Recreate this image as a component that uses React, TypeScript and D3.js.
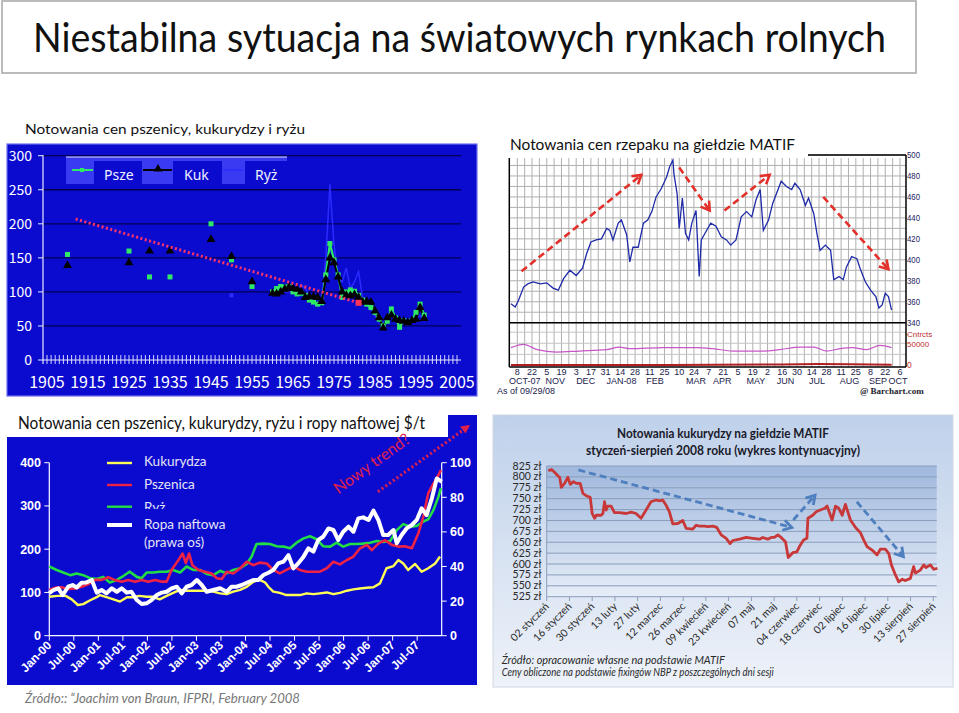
import React from "react";
import * as d3 from "d3";

// ---------- Chart 1: wheat / maize / rice 1905-2005 ----------
const c1Years = [1910, 1925, 1930, 1935, 1945, 1950, 1955,
  1960, 1961, 1962, 1963, 1964, 1965, 1966, 1967, 1968, 1969, 1970, 1971, 1972, 1973, 1974, 1975, 1976, 1977, 1978, 1979,
  1980, 1981, 1982, 1983, 1984, 1985, 1986, 1987, 1988, 1989, 1990, 1991, 1992, 1993, 1994, 1995, 1996, 1997];
const c1Wheat = [155, 160, 122, 122, 200, 147, 108,
  100, 105, 108, 107, 108, 100, 97, 98, 95, 88, 85, 82, 84, 125, 171, 147, 125, 92, 100, 103,
  101, 95, 88, 82, 77, 70, 60, 50, 57, 75, 62, 48, 58, 55, 58, 70, 82, 66];
const c1Maize = [139, 143, 160, 160, 177, 152, 115,
  98, 97, 100, 104, 107, 105, 104, 100, 92, 93, 93, 92, 86, 118, 150, 143, 122, 100, 95, 94,
  96, 92, 85, 86, 85, 72, 62, 47, 62, 66, 60, 58, 57, 55, 58, 60, 77, 61];
const c1Rice: (number | null)[] = [null, null, null, null, null, 95, null,
  95, 98, 100, 100, 100, 100, 105, 110, 105, 95, 85, 80, 90, 150, 258, 170, 120, 115, 135, 105,
  115, 130, 90, 85, 75, 65, 55, 55, 65, 65, 60, 62, 60, 55, 60, 62, 65, 60];
const c1Trend: [number, number][] = [[1912, 207], [1981, 84]];
const c1YTicks = [0, 50, 100, 150, 200, 250, 300];
const c1XLabels = [1905, 1915, 1925, 1935, 1945, 1955, 1965, 1975, 1985, 1995, 2005];

// ---------- Chart 2: rapeseed MATIF ----------
const c2Price: [string, number][] = [
  ["2007-10-02", 358], ["2007-10-06", 355], ["2007-10-09", 361], ["2007-10-14", 374], ["2007-10-18", 377], ["2007-10-23", 379],
  ["2007-10-30", 377], ["2007-11-05", 378], ["2007-11-11", 373], ["2007-11-16", 371], ["2007-11-21", 382], ["2007-11-27", 390],
  ["2007-12-03", 385], ["2007-12-09", 392], ["2007-12-13", 406], ["2007-12-17", 417], ["2007-12-22", 419], ["2007-12-27", 420],
  ["2008-01-01", 430], ["2008-01-04", 428], ["2008-01-07", 419], ["2008-01-12", 435], ["2008-01-15", 438], ["2008-01-20", 424],
  ["2008-01-23", 398], ["2008-01-26", 412], ["2008-01-31", 412], ["2008-02-05", 435], ["2008-02-09", 438], ["2008-02-13", 446],
  ["2008-02-17", 460], ["2008-02-22", 468], ["2008-02-27", 479], ["2008-03-01", 489], ["2008-03-04", 495], ["2008-03-05", 482],
  ["2008-03-08", 463], ["2008-03-10", 430], ["2008-03-13", 459], ["2008-03-16", 425], ["2008-03-19", 419], ["2008-03-22", 435],
  ["2008-03-26", 447], ["2008-03-29", 384], ["2008-03-31", 419], ["2008-04-05", 428], ["2008-04-09", 435], ["2008-04-14", 432],
  ["2008-04-19", 422], ["2008-04-24", 419], ["2008-04-28", 414], ["2008-05-03", 419], ["2008-05-08", 441], ["2008-05-13", 446],
  ["2008-05-18", 441], ["2008-05-22", 457], ["2008-05-26", 467], ["2008-05-29", 428], ["2008-06-03", 438], ["2008-06-07", 454],
  ["2008-06-12", 467], ["2008-06-15", 475], ["2008-06-20", 470], ["2008-06-25", 467], ["2008-06-28", 473], ["2008-07-03", 467],
  ["2008-07-08", 452], ["2008-07-11", 459], ["2008-07-16", 444], ["2008-07-19", 425], ["2008-07-22", 409], ["2008-07-27", 414],
  ["2008-08-01", 409], ["2008-08-04", 381], ["2008-08-09", 384], ["2008-08-13", 381], ["2008-08-16", 393], ["2008-08-21", 403],
  ["2008-08-26", 401], ["2008-08-29", 392], ["2008-09-03", 379], ["2008-09-08", 371], ["2008-09-13", 365], ["2008-09-16", 354],
  ["2008-09-19", 357], ["2008-09-22", 368], ["2008-09-25", 365], ["2008-09-28", 352]];
const c2Volume: [string, number][] = [
  ["2007-10-02", 40200], ["2007-10-14", 47700], ["2007-10-27", 35600], ["2007-11-14", 30300], ["2007-12-06", 32600],
  ["2008-01-01", 35600], ["2008-01-13", 41600], ["2008-01-23", 37900], ["2008-02-24", 40200], ["2008-03-26", 40200],
  ["2008-04-11", 37900], ["2008-04-30", 32600], ["2008-05-29", 32600], ["2008-06-13", 35600], ["2008-07-03", 41600],
  ["2008-07-16", 41600], ["2008-07-28", 32600], ["2008-08-10", 37900], ["2008-08-22", 40200], ["2008-09-04", 35600],
  ["2008-09-17", 45500], ["2008-09-28", 40200]];
const c2OpenInt: [string, number][] = [
  ["2007-10-02", 1200], ["2007-12-15", 1000], ["2008-03-01", 1300], ["2008-06-15", 2200], ["2008-07-20", 3200],
  ["2008-08-20", 2600], ["2008-09-28", 1800]];
const c2PriceTicks = [340, 360, 380, 400, 420, 440, 460, 480, 500];
const c2MonthLabels: [string, string][] = [
  ["OCT-07", "2007-10-15"], ["NOV", "2007-11-13"], ["DEC", "2007-12-12"], ["JAN-08", "2008-01-15"], ["FEB", "2008-02-16"],
  ["MAR", "2008-03-26"], ["APR", "2008-04-20"], ["MAY", "2008-05-22"], ["JUN", "2008-06-19"], ["JUL", "2008-07-19"],
  ["AUG", "2008-08-19"], ["SEP", "2008-09-15"], ["OCT", "2008-10-04"]];
const c2Arrows: [string, number, string, number][] = [
  ["2007-10-12", 389, "2008-02-03", 481], ["2008-03-10", 488, "2008-04-08", 447],
  ["2008-04-22", 447, "2008-06-04", 481], ["2008-07-25", 460, "2008-09-25", 391]];

// ---------- Chart 3: wheat, maize, rice, oil 2000-2007 ----------
const c3Maize: [number, number][] = [[0, 90], [2, 92], [4, 92], [5.5, 84], [7, 71], [8.3, 73], [10, 82], [11.6, 89], [12.4, 94], [14, 89],
  [15.7, 84], [17.3, 79], [19, 89], [20.5, 89], [22, 92], [23.8, 90], [25.4, 90], [27, 84], [28.7, 92], [30.3, 99], [32, 106],
  [33.6, 104], [35.2, 104], [36.9, 104], [38.5, 104], [40.1, 102], [41.8, 98], [43.4, 96], [45, 102], [46.7, 106], [48.3, 113],
  [50, 125], [51.5, 129], [52.8, 123], [53.6, 113], [54.8, 102], [56.4, 99], [58, 94], [59.7, 94], [61.3, 94], [63, 98], [64.6, 96],
  [66.2, 98], [67.9, 100], [69.5, 96], [71.1, 99], [72.8, 104], [74.4, 107], [76, 109], [77.7, 111], [79.3, 112], [80.9, 121],
  [82.5, 156], [84.2, 161], [85.4, 175], [86.6, 167], [87.8, 152], [89.5, 166], [91.1, 148], [92.7, 156], [94.4, 167], [95.6, 183]];
const c3Wheat: [number, number][] = [[0, 106], [1.4, 111], [3, 112], [4.6, 108], [6.3, 109], [7.9, 113], [9.5, 119], [11.2, 129],
  [12.8, 129], [14.4, 135], [16, 129], [17.7, 125], [19.3, 129], [21, 125], [22.6, 129], [24.2, 125], [25.9, 129], [27.5, 125],
  [28.7, 125], [29.9, 152], [31.6, 175], [32.6, 190], [33.4, 168], [34.2, 190], [35, 163], [36.5, 152], [38.1, 148], [39.7, 144],
  [41, 133], [42.2, 131], [43.4, 148], [45, 144], [46.7, 156], [48.3, 171], [49.9, 163], [51.5, 169], [53.2, 167], [54.8, 152],
  [56.4, 144], [58, 152], [59.7, 160], [61.3, 152], [63, 148], [64.6, 148], [66.2, 148], [67.9, 156], [69.5, 171], [71.1, 165],
  [72.8, 175], [74.4, 183], [76, 202], [77.7, 210], [78.9, 198], [80.5, 213], [82.1, 221], [83.8, 210], [85.4, 206], [87, 207],
  [88.7, 202], [90.3, 237], [91.5, 275], [92.7, 329], [94, 352], [95.2, 371], [95.8, 383]];
const c3Rice: [number, number][] = [[0, 160], [1.8, 152], [3.4, 146], [5.1, 140], [6.7, 144], [8.3, 140], [10, 133], [11.6, 131],
  [13.2, 136], [14.8, 123], [16.5, 129], [18.1, 138], [19.7, 148], [21.4, 136], [22.6, 133], [23.8, 146], [25.4, 146], [27, 148],
  [28.7, 148], [30.3, 152], [32, 146], [33.6, 160], [35.2, 152], [36.9, 152], [38.5, 143], [40.1, 140], [41.8, 150], [43.4, 144],
  [45, 152], [46.7, 156], [48.3, 166], [49.5, 183], [50.7, 212], [52.4, 213], [54, 212], [55.6, 207], [57.3, 206], [58.9, 202],
  [60.5, 215], [62.2, 225], [63.8, 230], [65.4, 223], [67, 207], [68.7, 206], [70.3, 215], [71.9, 206], [73.6, 212], [75.2, 212],
  [76.8, 213], [78.5, 215], [80.1, 219], [81.7, 217], [83.4, 219], [85, 244], [86.6, 258], [88.3, 252], [89.9, 254], [91.5, 264],
  [92.7, 269], [94, 291], [95.2, 321], [95.8, 341]];
const c3Oil: [number, number][] = [[0, 24.5], [1, 26.4], [2.2, 27.4], [3.3, 23.5], [4.6, 28.3], [5.7, 29.3], [6.7, 27.9], [7.9, 30.6],
  [9.1, 30.8], [10.4, 32.2], [11.6, 24.9], [12.8, 26.4], [14, 24.5], [15.3, 27.4], [16.5, 25.4], [17.7, 27.4], [18.9, 24.9],
  [20.1, 25.4], [21.4, 20.6], [22.6, 18.3], [23.8, 18.7], [25, 20.6], [26.3, 23.5], [27.5, 24.9], [28.7, 25.4], [29.9, 27.4],
  [31.2, 28.3], [32.4, 24.5], [33.6, 28.3], [34.8, 29.3], [36.1, 32.2], [37.3, 29.3], [38.5, 25.4], [40.1, 26.4], [41.8, 27.4],
  [43.4, 25.4], [44.6, 28.3], [45.8, 28.3], [47.1, 29.3], [48.3, 30.6], [49.9, 32.2], [51.1, 32.2], [52.4, 35.1], [53.6, 36.4],
  [54.8, 38], [56, 41.8], [57.3, 42.8], [58.5, 46.6], [59.7, 38.9], [60.9, 41.8], [62.2, 45.7], [63.4, 50.5], [64.6, 48.6],
  [65.8, 55.3], [67, 57.2], [68.3, 62], [69.5, 61.1], [70.7, 55.3], [71.9, 60.1], [73.2, 63], [74.4, 60.1], [75.6, 67.8],
  [76.8, 68.4], [78.1, 66.9], [79.3, 72.3], [80.5, 66.9], [81.7, 58.2], [82.9, 58.2], [84.2, 61.1], [85, 53.4], [86.2, 58.2],
  [87.4, 62], [88.7, 64], [89.9, 66.9], [91.1, 73.6], [92.3, 69.7], [93.6, 79.4], [94.8, 90.9], [96, 89]];
const c3LeftTicks = [0, 100, 200, 300, 400];
const c3RightTicks = [0, 20, 40, 60, 80, 100];
const c3XLabels = ["Jan-00", "Jul-00", "Jan-01", "Jul-01", "Jan-02", "Jul-02", "Jan-03", "Jul-03", "Jan-04", "Jul-04",
  "Jan-05", "Jul-05", "Jan-06", "Jul-06", "Jan-07", "Jul-07"];

// ---------- Chart 4: maize MATIF 2008 ----------
const c4Price: [number, number][] = [[1, 814], [3, 817], [5, 810], [7, 802], [8, 799], [9, 776], [11, 785], [13, 799], [14.5, 783],
  [16.5, 789], [18.5, 785], [20.6, 785], [22.3, 762], [24.7, 756], [26.8, 753], [28, 716], [29.5, 705], [30.5, 712], [33.5, 712],
  [34.6, 716], [35.6, 743], [36.6, 724], [37.6, 733], [39.7, 733], [41.7, 718], [44.8, 718], [48.9, 716], [52, 719], [55, 716],
  [58.1, 705], [61.2, 724], [64.2, 743], [67.3, 747], [69.4, 745], [71.4, 747], [73.5, 735], [75.5, 720], [77.6, 692], [80.7, 693],
  [83.8, 700], [85.8, 682], [89.9, 680], [92, 689], [94, 687], [97.1, 687], [99.2, 686], [102.3, 687], [104.7, 684], [107.4, 667],
  [110.5, 659], [112.9, 647], [114.6, 654], [118.7, 657], [122.8, 661], [126.9, 659], [131, 657], [133, 661], [136.1, 657],
  [138.2, 661], [140.2, 661], [142.3, 667], [144.3, 661], [147, 651], [148.7, 615], [151.5, 626], [154, 628], [155.6, 640],
  [158.1, 655], [160.2, 659], [160.8, 705], [163.8, 712], [165.9, 720], [168.4, 724], [171.2, 728], [172.6, 733], [175.7, 701],
  [177.8, 733], [179.8, 728], [181.9, 712], [183.9, 737], [187, 701], [190.1, 684], [193.1, 672], [195.2, 655], [197.2, 640],
  [200.3, 632], [203.4, 621], [205.4, 634], [208.5, 634], [210.6, 624], [212.2, 598], [214.7, 575], [216.7, 559], [218.8, 565],
  [220.8, 562], [223.9, 567], [225.9, 594], [227, 579], [230, 586], [232.1, 598], [233.5, 592], [236.2, 598], [238.2, 588], [240.5, 590]];
const c4YTicks = [525, 550, 575, 600, 625, 650, 675, 700, 725, 750, 775, 800, 825];
const c4XLabels = ["02 styczeń", "16 styczeń", "30 styczeń", "13 luty", "27 luty", "12 marzec", "26 marzec", "09 kwiecień",
  "23 kwiecień", "07 maj", "21 maj", "04 czerwiec", "18 czerwiec", "02 lipiec", "16 lipiec", "30 lipiec", "13 sierpień", "27 sierpień"];
const c4Arrows: [number, number, number, number][] = [[19.5, 816, 150.9, 684], [151.8, 701, 165.2, 758], [190.9, 743, 219.6, 617]];

const parse = d3.timeParse("%Y-%m-%d");
const CAL = "Lato, 'Open Sans', sans-serif";
const GOTH = "'Noto Sans CJK JP', 'Noto Sans', sans-serif";

function head(x1: number, y1: number, x2: number, y2: number, L: number, phi: number) {
  const t = Math.atan2(y2 - y1, x2 - x1);
  return `M${x2 - L * Math.cos(t - phi)},${y2 - L * Math.sin(t - phi)}L${x2},${y2}L${x2 - L * Math.cos(t + phi)},${y2 - L * Math.sin(t + phi)}`;
}

export default function App() {
  // ----- chart 1 scales
  const x1 = d3.scaleLinear().domain([1905, 2005]).range([47, 457]);
  const y1 = d3.scaleLinear().domain([0, 300]).range([360, 155.7]);
  const idx1 = c1Years.map((_, i) => i);
  const lineIdx = idx1.filter((i) => c1Years[i] >= 1960);
  const mk1 = (vals: (number | null)[]) =>
    d3.line<number>().x((i) => x1(c1Years[i])).y((i) => y1(vals[i] as number))(lineIdx) || "";
  const tri = d3.symbol().type(d3.symbolTriangle).size(34)() || "";

  // ----- chart 2 scales
  const x2 = d3.scaleTime().domain([new Date(2007, 9, 8), new Date(2008, 9, 6)]).range([517.3, 900]);
  const y2 = d3.scaleLinear().domain([340, 500]).range([322.7, 155]);
  const v2 = d3.scaleLinear().domain([0, 50000]).range([365.5, 343.3]);
  const priceLine = d3.line<[string, number]>().x((d) => x2(parse(d[0])!)).y((d) => y2(d[1]))(c2Price) || "";
  const volLine = d3.line<[string, number]>().x((d) => x2(parse(d[0])!)).y((d) => v2(d[1])).curve(d3.curveMonotoneX)(c2Volume) || "";
  const oiLine = d3.line<[string, number]>().x((d) => x2(parse(d[0])!)).y((d) => v2(d[1]))(c2OpenInt) || "";
  const mondays = d3.timeMonday.range(new Date(2007, 9, 2), new Date(2008, 9, 12));
  const biweekly = d3.range(27).map((i) => d3.timeDay.offset(new Date(2007, 9, 8), 14 * i));
  const priceGrid = d3.range(340, 501, 10);

  // ----- chart 3 scales
  const x3 = d3.scaleLinear().domain([0, 96]).range([49.3, 441.7]);
  const yL = d3.scaleLinear().domain([0, 400]).range([635.7, 462.7]);
  const yR = d3.scaleLinear().domain([0, 100]).range([635.7, 462.7]);
  const ln3 = (data: [number, number][], ys: d3.ScaleLinear<number, number>) =>
    d3.line<[number, number]>().x((d) => x3(d[0])).y((d) => ys(d[1])).curve(d3.curveLinear)(data) || "";

  // ----- chart 4 scales
  const x4 = d3.scaleLinear().domain([0, 238]).range([546.7, 933.3]);
  const y4 = d3.scaleLinear().domain([525, 825]).range([596.7, 466]);
  const ln4 = d3.line<[number, number]>().x((d) => x4(d[0])).y((d) => y4(d[1]))(c4Price) || "";

  const blue1 = "#0b0bcf";

  return (
    <svg width={959} height={713} style={{ position: "absolute", left: 0, top: 0, background: "#fff" }} fontFamily={CAL}>
      <defs>
        <linearGradient id="g4out" x1="0" y1="0" x2="0" y2="1">
          <stop offset="0" stopColor="#bfd1ea" />
          <stop offset="1" stopColor="#eef2f9" />
        </linearGradient>
        <linearGradient id="g4plot" x1="0" y1="0" x2="0" y2="1">
          <stop offset="0" stopColor="#9fb8dd" />
          <stop offset="1" stopColor="#e6edf7" />
        </linearGradient>
        <clipPath id="ryzClip"><rect x={140} y={495} width={80} height={14} /></clipPath>
        <clipPath id="c4clip"><rect x={547} y={460} width={392} height={140} /></clipPath>
      </defs>

      {/* ===== Title box ===== */}
      <rect x={2} y={1} width={914} height={72} fill="#fff" stroke="#a6a6a6" strokeWidth={1.5} />
      <text x={33} y={52} fontSize={40} fill="#111" textLength={853} lengthAdjust="spacingAndGlyphs">
        Niestabilna sytuacja na światowych rynkach rolnych
      </text>

      {/* ===== Chart 1 ===== */}
      <text x={25} y={134} fontSize={14} fill="#111" textLength={280} lengthAdjust="spacingAndGlyphs">
        Notowania cen pszenicy, kukurydzy i ryżu
      </text>
      <rect x={7} y={144} width={470} height={252} fill={blue1} stroke="#6f6ff0" strokeWidth={1.2} />
      {c1YTicks.filter((t) => t > 0).map((t) => (
        <line key={t} x1={43} x2={461} y1={y1(t)} y2={y1(t)} stroke="#000050" strokeWidth={1.3} />
      ))}
      {c1YTicks.map((t) => (
        <g key={"yt" + t}>
          <line x1={38} x2={43} y1={y1(t)} y2={y1(t)} stroke="#e8e8ff" strokeWidth={1} />
          <text x={32} y={y1(t) + 5} textAnchor="end" fontSize={14} fill="#fff" fontFamily={GOTH}>{t}</text>
        </g>
      ))}
      <line x1={43} x2={43} y1={155} y2={364} stroke="#e8e8ff" strokeWidth={1.2} />
      <line x1={43} x2={461} y1={360} y2={360} stroke="#e8e8ff" strokeWidth={1.2} />
      {d3.range(1905, 2006).map((yr) => (
        <line key={"xt" + yr} x1={x1(yr)} x2={x1(yr)} y1={355} y2={364} stroke="#e8e8ff" strokeWidth={0.9} />
      ))}
      {c1XLabels.map((yr) => (
        <text key={"xl" + yr} x={x1(yr)} y={388} textAnchor="middle" fontSize={16} fill="#fff" fontFamily={GOTH}>{yr}</text>
      ))}
      {/* legend */}
      <rect x={66} y={157} width={221} height={27} fill="#3a3af2" />
      <line x1={66} x2={287} y1={157} y2={157} stroke="#d8d8ff" strokeWidth={1} />
      <rect x={94} y={161} width={48} height={23} fill={blue1} />
      <rect x={173} y={161} width={49} height={23} fill={blue1} />
      <rect x={245} y={161} width={42} height={23} fill={blue1} />
      <line x1={72} x2={93} y1={170} y2={170} stroke="#2ee866" strokeWidth={2} />
      <rect x={80} y={168} width={4} height={4} fill="#2ee866" />
      <line x1={143} x2={172} y1={170} y2={170} stroke="#000" strokeWidth={2} />
      <path d={tri} transform="translate(158,169)" fill="#000" />
      <line x1={223} x2={243} y1={170} y2={170} stroke="#2b2bff" strokeWidth={1.5} />
      <text x={104} y={180} fontSize={14} fill="#f0f0ff" fontFamily="'Noto Sans', sans-serif">Psze</text>
      <text x={184} y={180} fontSize={14} fill="#f0f0ff" fontFamily="'Noto Sans', sans-serif">Kuk</text>
      <text x={255} y={180} fontSize={14} fill="#f0f0ff" fontFamily="'Noto Sans', sans-serif">Ryż</text>
      {/* series */}
      <path d={mk1(c1Rice)} fill="none" stroke="#2b2bff" strokeWidth={1.5} />
      {idx1.filter((i) => c1Rice[i] != null && c1Years[i] < 1960).map((i) => (
        <rect key={"rp" + i} x={x1(c1Years[i]) - 2} y={y1(c1Rice[i] as number) - 2} width={4} height={4} fill="#2b2bff" />
      ))}
      <path d={mk1(c1Wheat)} fill="none" stroke="#2ee866" strokeWidth={2.2} />
      <path d={mk1(c1Maize)} fill="none" stroke="#000" strokeWidth={2} />
      {idx1.map((i) => (
        <rect key={"wp" + i} x={x1(c1Years[i]) - 2.5} y={y1(c1Wheat[i]) - 2.5} width={5} height={5} fill="#2ee866" />
      ))}
      {idx1.map((i) => (
        <path key={"mp" + i} d={tri} transform={`translate(${x1(c1Years[i])},${y1(c1Maize[i])})`} fill="#000" />
      ))}
      <path d={d3.line().x((d) => x1(d[0])).y((d) => y1(d[1]))(c1Trend) || ""} stroke="#ff3366" strokeWidth={3} strokeDasharray="2 2.5" fill="none" />
      <rect x={x1(1981) - 3} y={y1(84) - 3} width={6} height={6} fill="#ff3355" />

      {/* ===== Chart 2 ===== */}
      {mondays.map((d, i) => (
        <line key={"vg" + i} x1={x2(d)} x2={x2(d)} y1={158} y2={367} stroke="#b0b0b0" strokeWidth={1} />
      ))}
      {priceGrid.map((p) => (
        <line key={"hg" + p} x1={509.3} x2={906} y1={y2(p)} y2={y2(p)} stroke="#b0b0b0" strokeWidth={1} />
      ))}
      {[25000, 50000, 75000].map((v) => (
        <line key={"vv" + v} x1={509.3} x2={906} y1={v2(v)} y2={v2(v)} stroke="#c4c4c4" strokeWidth={1} />
      ))}
      <rect x={500} y={132} width={308} height={26} fill="#fff" />
      <text x={510} y={150} fontSize={15} fill="#111" textLength={285} lengthAdjust="spacingAndGlyphs">
        Notowania cen rzepaku na giełdzie MATIF
      </text>
      <line x1={808} x2={906} y1={155} y2={155} stroke="#000" strokeWidth={1.5} />
      <line x1={509.3} x2={509.3} y1={158} y2={367} stroke="#000" strokeWidth={1.5} />
      <line x1={906} x2={906} y1={155} y2={367} stroke="#000" strokeWidth={1.5} />
      <line x1={509.3} x2={906} y1={322.7} y2={322.7} stroke="#000" strokeWidth={1.5} />
      <line x1={509.3} x2={906} y1={367} y2={367} stroke="#000" strokeWidth={1.5} />
      <path d={priceLine} fill="none" stroke="#1e2aa8" strokeWidth={1.3} />
      <path d={volLine} fill="none" stroke="#c757c7" strokeWidth={1.2} />
      <path d={oiLine} fill="none" stroke="#b02020" strokeWidth={2} />
      {c2PriceTicks.map((p) => (
        <text key={"pt" + p} x={907} y={y2(p) + 3} fontSize={8.5} fill="#1c1c5c" fontFamily="'Liberation Sans', Arial, sans-serif" textLength={13} lengthAdjust="spacingAndGlyphs">{p}</text>
      ))}
      <text x={907} y={336.5} fontSize={8} fill="#c03030" fontFamily="'Liberation Sans', Arial, sans-serif">Cntrcts</text>
      <text x={907} y={346.5} fontSize={8} fill="#c03030" fontFamily="'Liberation Sans', Arial, sans-serif">50000</text>
      <text x={907} y={368} fontSize={8.5} fill="#c03030" fontFamily="'Liberation Sans', Arial, sans-serif">0</text>
      {biweekly.map((d, i) => (
        <text key={"dl" + i} x={x2(d)} y={375} textAnchor="middle" fontSize={9} fill="#1c1c4c" fontFamily="'Liberation Sans', Arial, sans-serif">
          {d3.timeFormat("%-d")(d)}
        </text>
      ))}
      {c2MonthLabels.map(([lab, ds]) => (
        <text key={"ml" + lab} x={x2(parse(ds)!)} y={384} textAnchor="middle" fontSize={9} fill="#1c1c4c" fontFamily="'Liberation Sans', Arial, sans-serif">
          {lab}
        </text>
      ))}
      <text x={497} y={394} fontSize={9} fill="#1c1c4c" fontFamily="'Liberation Sans', Arial, sans-serif">As of 09/29/08</text>
      <text x={860} y={394} fontSize={9} fontWeight="bold" fill="#1c1c2c" fontFamily="'Liberation Serif', serif">@ Barchart.com</text>
      {c2Arrows.map(([d1, p1, d2, p2], i) => {
        const ax1 = x2(parse(d1)!), ay1 = y2(p1), ax2 = x2(parse(d2)!), ay2 = y2(p2);
        return (
          <g key={"ar" + i}>
            <line x1={ax1} y1={ay1} x2={ax2} y2={ay2} stroke="#e3302a" strokeWidth={2.6} strokeDasharray="7 4" />
            <path d={head(ax1, ay1, ax2, ay2, 10, 0.55)} fill="none" stroke="#e3302a" strokeWidth={2.6} />
          </g>
        );
      })}

      {/* ===== Chart 3 ===== */}
      <rect x={7} y={415} width={470} height={270} fill={blue1} />
      <rect x={7} y={412} width={441} height={25} fill="#fff" />
      <text x={18} y={429} fontSize={16.5} fill="#111" textLength={407} lengthAdjust="spacingAndGlyphs">
        Notowania cen pszenicy, kukurydzy, ryżu i ropy naftowej $/t
      </text>
      <line x1={49.3} x2={49.3} y1={462.7} y2={635.7} stroke="#fff" strokeWidth={1.2} />
      <line x1={441.7} x2={441.7} y1={462.7} y2={635.7} stroke="#fff" strokeWidth={1.2} />
      <line x1={49.3} x2={441.7} y1={635.7} y2={635.7} stroke="#fff" strokeWidth={1.2} />
      {c3LeftTicks.map((t) => (
        <g key={"lt" + t}>
          <line x1={44.3} x2={49.3} y1={yL(t)} y2={yL(t)} stroke="#fff" />
          <text x={41} y={yL(t) + 4.5} textAnchor="end" fontSize={12.5} fontWeight="bold" fill="#fff" fontFamily="'Liberation Sans', Arial, sans-serif">{t}</text>
        </g>
      ))}
      {c3RightTicks.map((t) => (
        <g key={"rt" + t}>
          <line x1={441.7} x2={446.7} y1={yR(t)} y2={yR(t)} stroke="#fff" />
          <text x={450} y={yR(t) + 4.5} fontSize={12.5} fontWeight="bold" fill="#fff" fontFamily="'Liberation Sans', Arial, sans-serif">{t}</text>
        </g>
      ))}
      {c3XLabels.map((lab, i) => (
        <g key={"x3" + i}>
          <line x1={x3(i * 6)} x2={x3(i * 6)} y1={635.7} y2={640.7} stroke="#fff" />
          <text transform={`translate(${x3(i * 6) + 3},${646}) rotate(-45)`} textAnchor="end" fontSize={12} fontWeight="bold" fill="#fff" fontFamily="'Liberation Sans', Arial, sans-serif">{lab}</text>
        </g>
      ))}
      <path d={ln3(c3Maize, yL)} fill="none" stroke="#ffff55" strokeWidth={2.4} strokeLinejoin="round" />
      <path d={ln3(c3Rice, yL)} fill="none" stroke="#22dd44" strokeWidth={2.6} strokeLinejoin="round" />
      <path d={ln3(c3Wheat, yL)} fill="none" stroke="#ee2244" strokeWidth={2.6} strokeLinejoin="round" />
      <path d={ln3(c3Oil, yR)} fill="none" stroke="#ffffff" strokeWidth={4} strokeLinejoin="round" />
      {/* legend */}
      <line x1={107} x2={132} y1={463} y2={463} stroke="#ffff55" strokeWidth={2.4} />
      <line x1={107} x2={132} y1={485} y2={485} stroke="#ee2244" strokeWidth={2.4} />
      <line x1={107} x2={132} y1={506.7} y2={506.7} stroke="#22dd44" strokeWidth={2.4} />
      <line x1={107} x2={132} y1={525} y2={525} stroke="#ffffff" strokeWidth={4} />
      <text x={144} y={466} fontSize={13.5} fill="#e4e4f4">Kukurydza</text>
      <text x={144} y={489} fontSize={13.5} fill="#e4e4f4">Pszenica</text>
      <text x={144} y={512} fontSize={13.5} fill="#e4e4f4" clipPath="url(#ryzClip)">Ryż</text>
      <text x={144} y={529} fontSize={13.5} fill="#e4e4f4">Ropa naftowa</text>
      <text x={144} y={547} fontSize={13.5} fill="#e4e4f4">(prawa oś)</text>
      {/* Nowy trend */}
      <text transform="translate(375,468) rotate(-36)" textAnchor="middle" fontSize={16} fill="#e0204a">Nowy trend?</text>
      <line x1={378} y1={491.7} x2={468} y2={426.5} stroke="#e0204a" strokeWidth={3.2} strokeDasharray="2 2.6" />
      <path d={`M470,425 L460,426.5 L465.5,433.5 Z`} fill="#e0204a" />

      {/* ===== Chart 4 ===== */}
      <rect x={493} y={415} width={460} height={272} fill="url(#g4out)" stroke="#d0d8e4" strokeWidth={1} />
      <rect x={546.7} y={466} width={390} height={130.7} fill="url(#g4plot)" />
      <text x={723} y={438} textAnchor="middle" fontSize={13} fontWeight="bold" fill="#1a1a2a" textLength={212} lengthAdjust="spacingAndGlyphs">
        Notowania kukurydzy na giełdzie MATIF
      </text>
      <text x={723} y={454.5} textAnchor="middle" fontSize={13} fontWeight="bold" fill="#1a1a2a" textLength={274} lengthAdjust="spacingAndGlyphs">
        styczeń-sierpień 2008 roku (wykres kontynuacyjny)
      </text>
      {c4YTicks.map((t) => (
        <g key={"y4" + t}>
          <line x1={546.7} x2={936.7} y1={y4(t)} y2={y4(t)} stroke="#8a9dbb" strokeWidth={1} />
          <text x={541.5} y={y4(t) + 3.5} textAnchor="end" fontSize={10.5} fill="#2a2a2a">{`${t} zł`}</text>
        </g>
      ))}
      <line x1={546.7} x2={546.7} y1={466} y2={596.7} stroke="#8a9dbb" />
      {c4XLabels.map((lab, i) => (
        <g key={"x4" + i}>
          <line x1={x4(i * 14)} x2={x4(i * 14)} y1={596.7} y2={601} stroke="#8a9dbb" />
          <text transform={`translate(${x4(i * 14) + 3},${607}) rotate(-45)`} textAnchor="end" fontSize={10.5} fill="#2a2a2a">{lab}</text>
        </g>
      ))}
      <path d={ln4} fill="none" stroke="#c83838" strokeWidth={2.8} strokeLinejoin="round" clipPath="url(#c4clip)" />
      {c4Arrows.map(([d1, p1, d2, p2], i) => {
        const ax1 = x4(d1), ay1 = y4(p1), ax2 = x4(d2), ay2 = y4(p2);
        return (
          <g key={"a4" + i}>
            <line x1={ax1} y1={ay1} x2={ax2} y2={ay2} stroke="#4f7fbf" strokeWidth={2.8} strokeDasharray="7 4" />
            <path d={head(ax1, ay1, ax2, ay2, 10, 0.55)} fill="none" stroke="#4f7fbf" strokeWidth={2.8} />
          </g>
        );
      })}
      <text x={501.7} y={664} fontSize={10.5} fontStyle="italic" fill="#2a2a2a" textLength={223} lengthAdjust="spacingAndGlyphs">
        Źródło: opracowanie własne na podstawie MATIF
      </text>
      <text x={501.7} y={676} fontSize={10.5} fontStyle="italic" fill="#2a2a2a" textLength={272} lengthAdjust="spacingAndGlyphs">
        Ceny obliczone na podstawie fixingów NBP z poszczególnych dni sesji
      </text>

      {/* ===== Footer ===== */}
      <text x={25} y={703} fontSize={13} fontStyle="italic" fill="#777" textLength={275} lengthAdjust="spacingAndGlyphs">
        Źródło:: “Joachim von Braun, IFPRI, February 2008
      </text>
    </svg>
  );
}
